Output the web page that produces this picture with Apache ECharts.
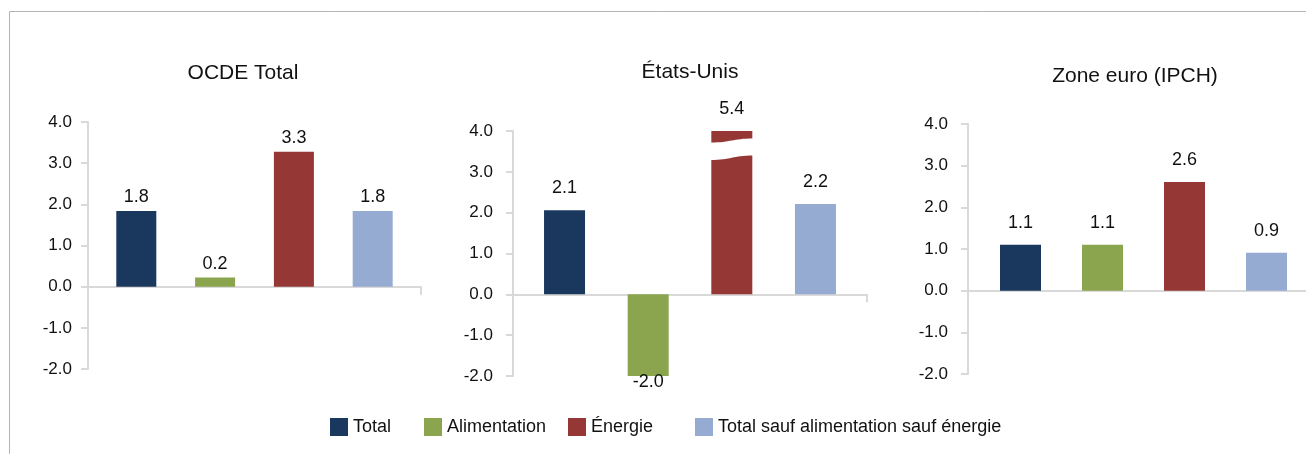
<!DOCTYPE html>
<html>
<head>
<meta charset="utf-8">
<script src="https://cdn.jsdelivr.net/npm/echarts@6/dist/echarts.min.js"></script>
<style>
  html, body { margin: 0; padding: 0; background: #fff; }
  #chart { width: 1306px; height: 454px; }
</style>
</head>
<body>
<div id="chart"></div>
<script>
// data
const panels = ['OCDE Total', 'États-Unis', 'Zone euro (IPCH)']
const seriesNames = ['Total', 'Alimentation', 'Énergie', 'Total sauf alimentation sauf énergie']
const total = [1.84, 2.06, 1.10]
const alimentation = [0.22, -2.03, 1.10]
const energie = [3.28, 5.4, 2.61]
const totalSauf = [1.84, 2.21, 0.91]
const yMin = -2
const yMax = 4
const yStep = 1

const values = [total, alimentation, energie, totalSauf]
const colors = ['#1a375e', '#8aa54e', '#953735', '#96abd2']
const font = '"Liberation Sans", Arial, sans-serif'
const axisGray = '#d9d9d9'

// one box per panel (layout only)
const boxes = [
  { left: 88, top: 122, width: 333, height: 247, barWidth: 40, gap: 0.97, labelMargin: 16, labelDist: 5, titleX: 243, titleY: 73 },
  { left: 513, top: 131, width: 354, height: 245, barWidth: 41, gap: 1.04, labelMargin: 20, labelDist: 13, titleX: 690, titleY: 72 },
  { left: 968, top: 124, width: 351, height: 250, barWidth: 41, gap: 1.0, labelMargin: 20, labelDist: 13, titleX: 1135, titleY: 76 }
]
const legendX = [330, 424, 568, 695]

const chart = echarts.init(document.getElementById('chart'))

const series = []
panels.forEach((p, pi) => {
  const box = boxes[pi]
  values.forEach((arr, si) => {
    const v = arr[pi]
    series.push({
      name: seriesNames[si],
      type: 'bar',
      xAxisIndex: pi,
      yAxisIndex: pi,
      barWidth: box.barWidth,
      barGap: Math.round(box.gap * 100) + '%',
      itemStyle: { color: colors[si] },
      label: {
        show: true,
        position: 'outside',
        distance: box.labelDist,
        fontFamily: font,
        fontSize: 18,
        color: '#111',
        formatter: (d) => d.value.toFixed(1)
      },
      data: [{ value: v, label: v < 0 ? { distance: -3 } : undefined }]
    })
    // value above the axis max: draw the white "broken bar" mark
    if (v > yMax) {
      series.push({
        type: 'custom',
        xAxisIndex: pi,
        yAxisIndex: pi,
        silent: true,
        z: 5,
        data: [[0, yMax - 0.23, yMax - 0.65]],
        renderItem: (params, api) => {
          const cx = api.coord([0, 0])[0]
          const yT = api.coord([0, api.value(1)])[1]
          const yB = api.coord([0, api.value(2)])[1]
          const w = box.barWidth
          const g = w * box.gap
          const x0 = cx - (4 * w + 3 * g) / 2 + si * (w + g) - 1
          const x1 = x0 + w + 2
          const xm = (x0 + x1) / 2
          const d = 'M' + x0 + ' ' + (yT + 2) +
            ' C' + xm + ' ' + (yT + 2) + ' ' + xm + ' ' + (yT - 2) + ' ' + x1 + ' ' + (yT - 2) +
            ' L' + x1 + ' ' + (yB - 2) +
            ' C' + xm + ' ' + (yB - 2) + ' ' + xm + ' ' + (yB + 2.5) + ' ' + x0 + ' ' + (yB + 2.5) + ' Z'
          return { type: 'path', shape: { pathData: d }, style: { fill: '#fff' } }
        }
      })
    }
  })
})

const option = {
  animation: false,
  backgroundColor: '#fff',
  title: panels.map((p, pi) => ({
    text: p,
    left: boxes[pi].titleX,
    top: boxes[pi].titleY,
    padding: 0,
    textAlign: 'center',
    textVerticalAlign: 'middle',
    textStyle: { fontFamily: font, fontSize: 21, fontWeight: 'normal', color: '#111' }
  })),
  legend: seriesNames.map((n, i) => ({
    data: [n],
    left: legendX[i],
    top: 418,
    padding: 0,
    icon: 'rect',
    itemWidth: 18,
    itemHeight: 18,
    selectedMode: false,
    textStyle: { fontFamily: font, fontSize: 18, color: '#111' }
  })),
  grid: boxes.map(b => ({
    left: b.left, top: b.top, width: b.width, height: b.height,
    containLabel: false, outerBoundsMode: 'none'
  })),
  xAxis: panels.map((p, pi) => ({
    type: 'category',
    gridIndex: pi,
    data: [''],
    axisLine: { show: true, onZero: true, lineStyle: { color: axisGray, width: 2 } },
    axisTick: { show: true, length: 8, lineStyle: { color: axisGray, width: 2 } },
    axisLabel: { show: false },
    splitLine: { show: false }
  })),
  yAxis: panels.map((p, pi) => ({
    type: 'value',
    gridIndex: pi,
    min: yMin,
    max: yMax,
    interval: yStep,
    axisLine: { show: true, lineStyle: { color: axisGray, width: 2 } },
    axisTick: { show: true, length: 7, lineStyle: { color: axisGray, width: 2 } },
    axisLabel: {
      margin: boxes[pi].labelMargin,
      fontFamily: font,
      fontSize: 17,
      color: '#111',
      formatter: (v) => v.toFixed(1)
    },
    splitLine: { show: false }
  })),
  graphic: [{
    type: 'rect',
    x: 9.5,
    y: 11.5,
    silent: true,
    shape: { width: 1400, height: 500 },
    style: { fill: 'none', stroke: '#b4b4b4', lineWidth: 1 }
  }],
  series: series
}

chart.setOption(option)
</script>
</body>
</html>
